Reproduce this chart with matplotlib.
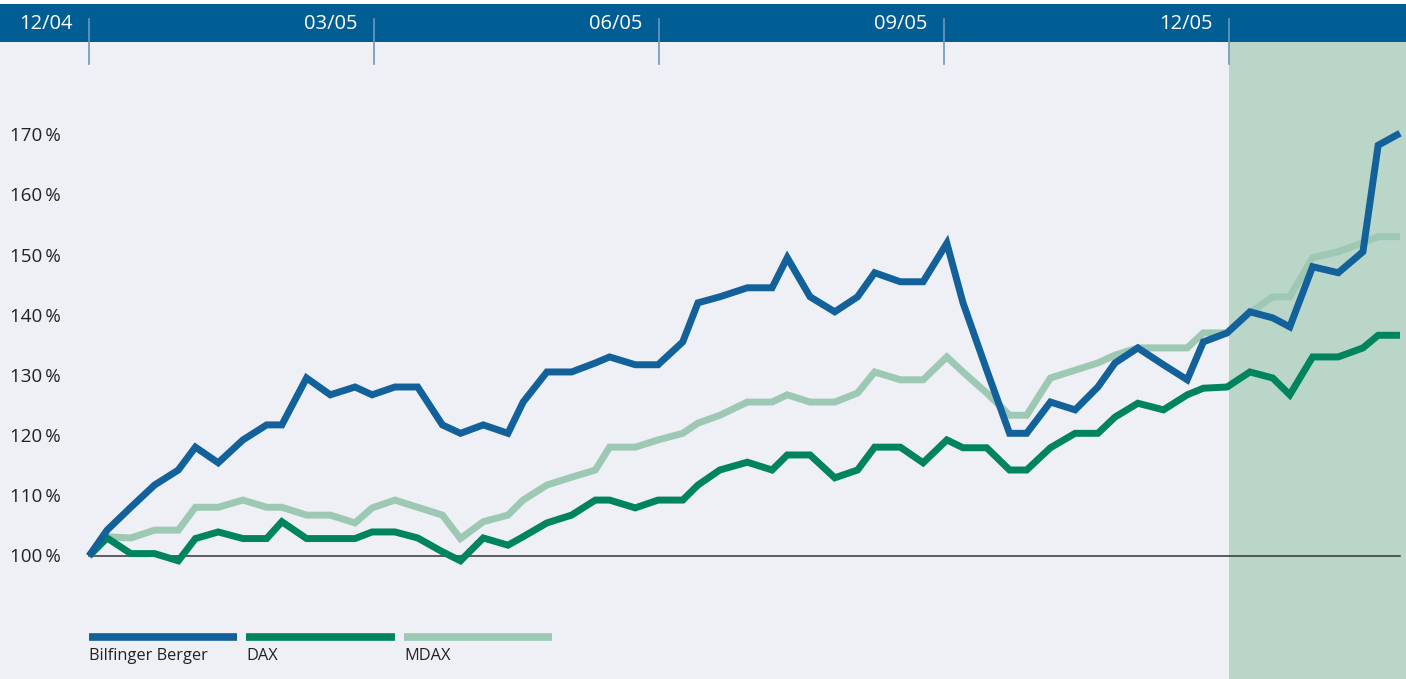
import matplotlib
matplotlib.use("Agg")
import matplotlib.pyplot as plt
from matplotlib.transforms import blended_transform_factory

plt.rcParams['font.family'] = ['Open Sans', 'DejaVu Sans']

# months since 12/04
months = [0, 0.19, 0.44, 0.69, 0.94, 1.12, 1.36, 1.62, 1.87, 2.03,
          2.29, 2.54, 2.80, 2.98, 3.22, 3.46, 3.72, 3.91, 4.15, 4.41,
          4.57, 4.82, 5.08, 5.33, 5.48, 5.75, 5.99, 6.25, 6.41, 6.64,
          6.93, 7.19, 7.35, 7.59, 7.85, 8.09, 8.27, 8.54, 8.78, 9.03,
          9.20, 9.45, 9.69, 9.87, 10.12, 10.38, 10.62, 10.80, 11.04, 11.31,
          11.56, 11.73, 11.98, 12.22, 12.46, 12.64, 12.88, 13.15, 13.41, 13.57,
          13.80]

bilfinger = [100, 104.3, 108.1, 111.8, 114.3, 118.1, 115.5, 119.3, 121.8, 121.8,
             129.6, 126.8, 128.1, 126.8, 128.1, 128.1, 121.8, 120.4, 121.8, 120.4,
             125.6, 130.6, 130.6, 132.1, 133.1, 131.8, 131.8, 135.6, 142.1, 143.1,
             144.6, 144.6, 149.6, 143.1, 140.6, 143.1, 147.1, 145.6, 145.6, 152.0,
             142.1, 130.9, 120.4, 120.4, 125.6, 124.3, 128.1, 132.1, 134.6, 131.8,
             129.3, 135.6, 137.1, 140.6, 139.6, 138.1, 148.1, 147.1, 150.6, 168.3,
             170.3]

dax = [100, 103.0, 100.4, 100.4, 99.2, 102.9, 104.0, 102.9, 102.9, 105.7,
       102.9, 102.9, 102.9, 104.0, 104.0, 103.0, 100.7, 99.2, 103.0, 101.8,
       103.2, 105.5, 106.8, 109.3, 109.3, 108.0, 109.3, 109.3, 111.8, 114.3,
       115.6, 114.3, 116.8, 116.8, 113.0, 114.3, 118.1, 118.1, 115.5, 119.3,
       118.0, 118.0, 114.3, 114.3, 118.0, 120.4, 120.4, 123.1, 125.4, 124.3,
       126.8, 127.9, 128.1, 130.6, 129.6, 126.8, 133.1, 133.1, 134.6, 136.7,
       136.7]

mdax = [100, 103.2, 103.0, 104.3, 104.3, 108.1, 108.1, 109.3, 108.1, 108.1,
        106.8, 106.8, 105.5, 108.0, 109.3, 108.1, 106.8, 102.9, 105.7, 106.8,
        109.3, 111.8, 113.1, 114.3, 118.1, 118.1, 119.3, 120.4, 122.1, 123.4,
        125.6, 125.6, 126.8, 125.6, 125.6, 127.1, 130.6, 129.3, 129.3, 133.1,
        130.6, 127.1, 123.4, 123.4, 129.6, 130.9, 132.1, 133.4, 134.6, 134.6,
        134.6, 137.1, 137.1, 140.4, 143.1, 143.1, 149.6, 150.6, 152.1, 153.1,
        153.1]

tick_pos = [0, 3, 6, 9, 12]
tick_labels = ['12/04', '03/05', '06/05', '09/05', '12/05']
y_ticks = [100, 110, 120, 130, 140, 150, 160, 170]
series_names = ['Bilfinger Berger', 'DAX', 'MDAX']

c_blue = '#12619a'
c_green = '#00845d'
c_light = '#9dc8b4'
c_band = '#005e94'
c_bg = '#eef0f5'

W, H = 1406, 679
fig = plt.figure(figsize=(W / 100, H / 100), dpi=100)
fig.patch.set_facecolor('white')

ax = fig.add_axes([0, 0, 1, (H - 42) / H])
ax.set_facecolor(c_bg)
ax.set_xlim(-89 / 95, (W - 89) / 95)
ax.set_ylim(100 - (H - 556) / 6.014, 100 + (556 - 42) / 6.014)
ax.axis('off')
ax.add_patch(plt.Rectangle((0, 0), 1, 1, transform=ax.transAxes,
                           facecolor=c_bg, edgecolor='none', zorder=0))

# shaded area after 12/05
ax.axvspan(12, ax.get_xlim()[1], color='#b9d6c8', lw=0, zorder=1)

ax.plot([months[0], months[-1]], [100, 100], color='#333333', lw=1.1, zorder=2)

for vals, col in [(mdax, c_light), (dax, c_green), (bilfinger, c_blue)]:
    ax.plot(months, vals, color=col, lw=5, solid_joinstyle='miter',
            solid_capstyle='butt', zorder=3)

ytr = ax.get_yaxis_transform()
for v in y_ticks:
    ax.text(10 / W, v - 0.2, f'{v}\u2009%', transform=ytr, ha='left', va='center',
            fontsize=13.5, color='#222222')

# header band
band = fig.add_axes([0, (H - 42) / H, 1, 38 / H])
band.set_facecolor(c_band)
band.set_xlim(ax.get_xlim())
band.set_ylim(0, 1)
band.set_xticks([])
band.set_yticks([])
for s in band.spines.values():
    s.set_visible(False)
for p, lab in zip(tick_pos, tick_labels):
    band.text(p - 0.17, 0.47, lab, ha='right', va='center', color='white',
              fontsize=14.5)

tr = blended_transform_factory(ax.transData, fig.transFigure)
for p in tick_pos:
    fig.add_artist(plt.Line2D([p, p], [1 - 19 / H, 1 - 64 / H], transform=tr,
                              color='#6f97bb', lw=1.2, zorder=10))

# legend
leg_x = [(89, 237), (246, 395), (404, 552)]
for (x0, x1), col, name in zip(leg_x, [c_blue, c_green, c_light], series_names):
    fig.add_artist(plt.Line2D([x0 / W, x1 / W], [1 - 637 / H, 1 - 637 / H],
                              transform=fig.transFigure, color=col, lw=5.5,
                              solid_capstyle='butt'))
    fig.text(x0 / W, 1 - 656 / H, name, ha='left', va='center', fontsize=11.8,
             color='#222222')

fig.savefig('out.png', dpi=100)
